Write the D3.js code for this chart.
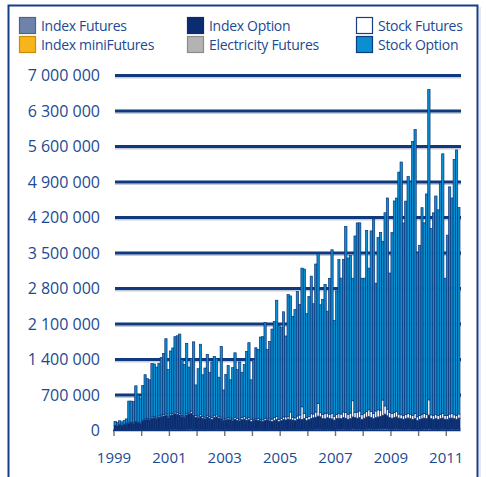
<!DOCTYPE html>
<html>
<head>
<meta charset="utf-8">
<script src="https://cdn.jsdelivr.net/npm/d3@7"></script>
<style>
  html, body { margin: 0; padding: 0; background: #fff; }
  svg { display: block; font-family: "Open Sans", sans-serif; }
</style>
</head>
<body>
<div id="chart"></div>
<script>
// monthly contracts, thousands, Jan 1999 .. Jun 2011
const indexFutures = [
  10,10,12,10,12,14,15,15,14,16,15,14,
  18,20,22,20,24,22,20,22,24,26,25,20,
  26,28,30,28,26,24,22,28,30,32,28,24,
  24,26,24,22,26,24,22,26,28,26,24,20,
  22,24,26,24,22,20,22,24,26,24,22,20,
  20,22,24,22,20,22,24,22,20,22,24,20,
  22,24,26,24,22,24,26,28,26,24,26,22,
  24,26,28,30,32,28,26,28,30,28,26,24,
  26,28,30,32,30,28,30,34,32,30,32,28,
  30,32,34,32,30,32,34,36,38,40,36,32,
  30,32,34,32,30,28,30,32,30,28,30,26,
  28,30,32,30,40,30,28,30,28,30,32,28,
  28,30,32,30,28,30
]
const indexMiniFutures = [
  0,0,0,0,0,0,0,0,0,0,0,0,
  0,0,0,0,0,0,0,0,0,0,0,0,
  12,0,0,0,0,0,0,0,0,0,0,0,
  0,0,0,0,0,0,0,0,0,0,0,0,
  10,0,0,0,0,0,0,0,0,0,0,0,
  12,0,0,0,0,0,0,0,0,0,0,0,
  0,0,0,0,0,0,0,0,0,0,0,0,
  0,0,0,0,0,0,0,0,0,0,0,0,
  14,0,0,0,0,0,0,0,0,0,0,0,
  0,0,0,0,0,0,0,0,0,0,0,0,
  0,0,0,0,0,0,0,0,0,0,0,0,
  0,0,0,0,0,0,0,0,0,0,0,12,
  0,10,0,0,0,12
]
const indexOption = [
  90,80,100,90,110,120,130,140,130,150,140,130,
  170,190,200,190,220,230,210,240,250,260,270,230,
  260,280,300,290,280,250,240,280,300,310,280,240,
  230,250,220,210,240,220,200,230,240,220,210,180,
  180,200,190,170,200,180,170,190,200,180,190,160,
  170,190,180,170,160,180,190,170,160,180,190,160,
  170,190,180,200,190,180,170,190,200,190,210,170,
  190,210,220,230,250,240,210,200,220,210,200,180,
  190,210,200,220,210,190,200,230,220,210,220,190,
  210,230,240,220,200,220,230,240,260,280,250,220,
  210,220,230,210,200,190,200,210,200,190,200,170,
  190,200,210,200,260,200,190,200,190,200,210,180,
  190,200,210,200,190,200
]
const electricityFutures = [
  0,0,0,0,0,0,0,0,0,0,0,0,
  0,0,0,0,0,0,0,0,0,0,0,0,
  0,0,0,0,0,0,0,0,0,0,0,0,
  0,0,0,0,0,0,0,0,0,0,0,0,
  0,0,0,0,0,0,0,0,0,0,0,0,
  0,0,0,0,0,0,0,0,0,0,0,0,
  2,2,3,2,2,3,2,2,3,3,2,2,
  3,3,2,3,3,2,3,3,2,3,3,2,
  3,3,4,3,3,4,3,3,4,3,3,3,
  4,4,3,4,4,3,4,4,3,4,4,3,
  3,4,4,3,4,4,3,4,4,3,4,3,
  4,4,3,4,4,3,4,4,3,4,4,3,
  4,4,3,4,4,3
]
const stockFutures = [
  0,0,0,5,5,5,10,10,10,10,10,10,
  15,20,20,20,25,25,20,25,30,30,30,20,
  30,30,35,30,30,25,20,30,30,40,35,30,
  30,35,30,30,35,30,30,35,40,35,30,25,
  30,35,30,30,40,35,30,40,45,40,40,35,
  20,25,30,25,30,40,30,35,45,50,60,40,
  40,50,60,45,150,55,50,65,75,250,100,60,
  60,90,75,100,250,80,75,100,90,80,110,75,
  80,100,90,110,115,100,110,320,100,120,130,90,
  100,110,130,120,100,130,140,120,300,160,130,100,
  90,100,110,80,75,70,80,90,85,80,100,70,
  75,80,90,85,300,75,70,80,75,85,90,70,
  75,80,90,75,70,80
]
const stockOption = [
  80,70,80,65,75,90,425,415,415,705,535,485,
  685,870,780,770,1050,1035,1000,1035,1135,1205,1485,930,
  1240,1290,1485,1520,1565,1100,1020,1380,890,1040,1405,605,
  935,1390,825,970,1200,875,1100,1170,1110,770,1395,575,
  860,1020,755,1015,1270,965,1130,895,1030,1315,1480,785,
  1180,1395,1365,1625,1640,1890,1355,1525,1775,1900,2295,1850,
  1795,2075,1595,2410,2290,1990,2135,2455,2180,2735,2845,2050,
  2365,2715,2175,2920,2950,2130,2270,2550,2010,2680,3225,1890,
  2440,3030,2680,3010,3665,3080,3110,2415,3480,3730,3710,2690,
  2660,3570,2795,3560,3840,2520,3395,3505,3130,3810,4165,2750,
  3570,4170,4205,4770,4985,3800,4210,4670,4585,5400,5600,3235,
  3355,4080,3760,4345,6120,3675,4000,4310,4055,4575,5120,2710,
  3555,4480,4250,5035,5240,4070
]

const seriesNames = ["Index Futures", "Index miniFutures", "Index Option", "Electricity Futures", "Stock Futures", "Stock Option"]
const seriesValues = [indexFutures, indexMiniFutures, indexOption, electricityFutures, stockFutures, stockOption]
const seriesColors = ["#6e83ac", "#f7b51b", "#0b2c6f", "#b3b3b3", "#ffffff", "#0a8fd0"]
const swatchStroke = ["#4d6391", "#c98d00", "#0b2c6f", "#8c8c8c", "#173f85", "#0d3c82"]
const yTicks = [0, 700000, 1400000, 2100000, 2800000, 3500000, 4200000, 4900000, 5600000, 6300000, 7000000]
const yearLabels = [1999, 2001, 2003, 2005, 2007, 2009, 2011]

const width = 486, height = 477
const navy = "#143f86"
const textColor = "#1c4a92"

const svg = d3.select("#chart").append("svg")
  .attr("width", width)
  .attr("height", height)

// outer frame
svg.append("path")
  .attr("d", "M8.5,477V5.5H477.5V477")
  .attr("fill", "none")
  .attr("stroke", navy)
  .attr("stroke-width", 2)
svg.append("line")
  .attr("x1", 480).attr("x2", 480).attr("y1", 7).attr("y2", 477)
  .attr("stroke", "#c9d3e6").attr("stroke-width", 1)

// legend
const legendCols = [19.5, 187.5, 356.5]
const legend = svg.append("g")
seriesNames.forEach((name, i) => {
  const col = Math.floor(i / 2), row = i % 2
  const gx = legendCols[col], gy = 17.5 + row * 19
  legend.append("rect")
    .attr("x", gx).attr("y", gy)
    .attr("width", 16).attr("height", 16)
    .attr("fill", seriesColors[i])
    .attr("stroke", swatchStroke[i])
    .attr("stroke-width", 1.2)
  legend.append("text")
    .attr("x", gx + 21.5).attr("y", gy + 13)
    .attr("font-size", "14px")
    .attr("letter-spacing", "-0.3")
    .attr("fill", textColor)
    .text(name)
})

// data rows
const months = d3.timeMonth.range(new Date(1999, 0, 1), new Date(2011, 6, 1))
const keys = seriesNames
const rows = months.map((date, m) => {
  const row = { date }
  keys.forEach((k, i) => { row[k] = seriesValues[i][m] * 1000 })
  return row
})

const x = d3.scaleTime()
  .domain([new Date(1999, 0, 1), new Date(2011, 6, 1)])
  .range([114, 460])

const y = d3.scaleLinear()
  .domain([0, 7000000])
  .range([430.5, 75.5])

const fmt = v => d3.format(",")(v).replace(/,/g, " ")

// gridlines with a soft shadow
const grid = svg.append("g")
yTicks.filter(v => v > 0).forEach(v => {
  grid.append("line")
    .attr("x1", 115).attr("x2", 461)
    .attr("y1", y(v) + 2.2).attr("y2", y(v) + 2.2)
    .attr("stroke", "#c7cbd8").attr("stroke-width", 1.6)
  grid.append("line")
    .attr("x1", 115).attr("x2", 461)
    .attr("y1", y(v)).attr("y2", y(v))
    .attr("stroke", "#0f3a80").attr("stroke-width", 3)
})

// y labels
svg.append("g").selectAll("text")
  .data(yTicks)
  .join("text")
  .attr("x", 100)
  .attr("y", d => y(d))
  .attr("dy", "0.36em")
  .attr("text-anchor", "end")
  .attr("font-size", "16px")
  .attr("fill", textColor)
  .text(d => fmt(d))

// stacked bars
const stacked = d3.stack().keys(keys)(rows)
const bars = svg.append("g")
stacked.forEach((layer, i) => {
  bars.append("g")
    .attr("fill", seriesColors[i])
    .selectAll("rect")
    .data(layer)
    .join("rect")
    .attr("x", d => x(d.data.date))
    .attr("width", d => x(d3.timeMonth.offset(d.data.date, 1)) - x(d.data.date))
    .attr("y", d => y(d[1]))
    .attr("height", d => y(d[0]) - y(d[1]))
    .attr("stroke", d => (d[1] - d[0]) > 0 ? "#0d3478" : "none")
    .attr("stroke-width", 0.7)
})

// x axis
const years = d3.timeYear.range(new Date(1999, 0, 1), new Date(2012, 0, 1))
svg.append("line")
  .attr("x1", 113).attr("x2", 460.5)
  .attr("y1", 430.5).attr("y2", 430.5)
  .attr("stroke", "#0d3478").attr("stroke-width", 1.4)
svg.append("g").selectAll("line")
  .data(years)
  .join("line")
  .attr("x1", d => x(d)).attr("x2", d => x(d))
  .attr("y1", 431).attr("y2", 436)
  .attr("stroke", "#6f6f6f").attr("stroke-width", 1.4)
svg.append("g").selectAll("text")
  .data(yearLabels)
  .join("text")
  .attr("x", d => x(new Date(d, 0, 1)))
  .attr("y", 463)
  .attr("text-anchor", "middle")
  .attr("font-size", "15px")
  .attr("fill", textColor)
  .text(d => d)
</script>
</body>
</html>
